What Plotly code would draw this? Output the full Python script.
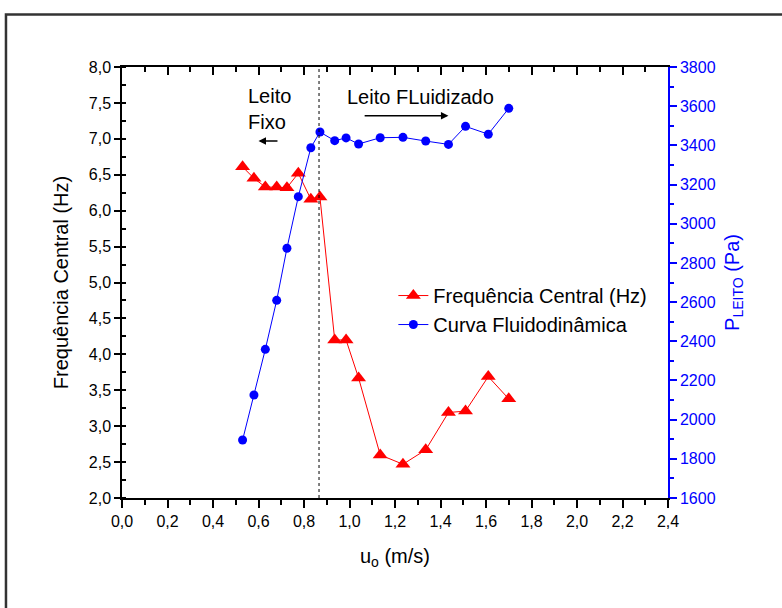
import plotly.graph_objects as go

# ---- data ----
u_vel = [0.53, 0.58, 0.63, 0.68, 0.725, 0.775, 0.83, 0.87, 0.935, 0.985,
         1.04, 1.135, 1.235, 1.335, 1.435, 1.51, 1.61, 1.70]
freq_central = [6.61, 6.45, 6.33, 6.33, 6.32, 6.52, 6.16, 6.19, 4.20, 4.20,
                3.67, 2.60, 2.47, 2.67, 3.19, 3.21, 3.69, 3.38]
p_leito = [1896, 2126, 2359, 2609, 2875, 3138, 3388, 3468, 3424, 3438,
           3407, 3439, 3441, 3422, 3405, 3497, 3457, 3589]
u_transition = 0.866

FONT = "Arial, Liberation Sans, sans-serif"
BLUE = "#0000ff"
RED = "#ff0000"

fig = go.Figure()
fig.add_trace(go.Scatter(
    x=u_vel, y=freq_central, mode="lines+markers",
    name="Frequência Central (Hz)",
    line=dict(color=RED, width=1),
    marker=dict(symbol="triangle-up", size=13, color=RED),
))
fig.add_trace(go.Scatter(
    x=u_vel, y=p_leito, mode="lines+markers", yaxis="y2",
    name="Curva Fluidodinâmica",
    line=dict(color=BLUE, width=1),
    marker=dict(symbol="circle", size=9, color=BLUE),
))

tickfont = dict(family=FONT, size=16, color="black")

fig.update_layout(
    width=782, height=608,
    margin=dict(l=122, r=114, t=67, b=110),
    paper_bgcolor="white", plot_bgcolor="white",
    separators=",.",
    font=dict(family=FONT, size=20, color="black"),
    showlegend=True,
    legend=dict(x=0.497, y=0.515, xanchor="left", yanchor="top",
                bgcolor="rgba(0,0,0,0)", font=dict(family=FONT, size=20),
                tracegroupgap=0),
    xaxis=dict(range=[0, 2.4], dtick=0.2, tick0=0, tickformat=".1f",
               showgrid=False, zeroline=False, showline=True, linecolor="black",
               linewidth=1.5, ticks="outside", ticklen=8, tickwidth=1.5,
               tickcolor="black", mirror=True, tickfont=tickfont,
               minor=dict(ticks="outside", ticklen=5, dtick=0.1, tickcolor="black"),
               title=dict(text="u<sub>o</sub> (m/s)", standoff=20,
                          font=dict(family=FONT, size=20))),
    xaxis2=dict(range=[0, 2.4], overlaying="x", side="top", anchor="y",
                dtick=0.2, tick0=0, showticklabels=False, showgrid=False,
                zeroline=False, showline=False, ticks="inside", ticklen=8,
                tickwidth=1.5, tickcolor="black",
                minor=dict(ticks="inside", ticklen=5, dtick=0.1, tickcolor="black")),
    yaxis=dict(range=[2, 8], dtick=0.5, tick0=2, tickformat=".1f",
               showgrid=False, zeroline=False, showline=True, linecolor="black",
               linewidth=1.5, ticks="outside", ticklen=6, tickwidth=1.5,
               tickcolor="black", tickfont=tickfont,
               minor=dict(ticks="inside", ticklen=4, dtick=0.25, tickcolor="black"),
               title=dict(text="Frequência Central (Hz)", standoff=15,
                          font=dict(family=FONT, size=20))),
    yaxis2=dict(range=[1600, 3800], dtick=200, tick0=1600, overlaying="y",
                side="right", showgrid=False, zeroline=False, showline=True,
                linecolor=BLUE, linewidth=1.5, ticks="outside", ticklen=7,
                tickwidth=1.5, tickcolor=BLUE,
                tickfont=dict(family=FONT, size=16, color=BLUE),
                minor=dict(ticks="outside", ticklen=4, dtick=100, tickcolor=BLUE),
                title=dict(text="P<sub>LEITO</sub> (Pa)", standoff=10,
                           font=dict(family=FONT, size=20, color=BLUE))),
)

# invisible trace to make the top axis draw
fig.add_trace(go.Scatter(x=[0], y=[2], xaxis="x2", mode="markers",
                         marker=dict(opacity=0), showlegend=False,
                         hoverinfo="skip"))

# transition line
fig.add_shape(type="line", xref="x", yref="paper", x0=u_transition, x1=u_transition,
              y0=0, y1=1, line=dict(color="black", width=1, dash="dot"))

# outer frame
fig.add_shape(type="rect", xref="paper", yref="paper",
              x0=-0.2125, x1=1.25, y0=-0.3, y1=1.122,
              line=dict(color="#333333", width=2.5), layer="above")

# annotations
fig.add_annotation(x=0.545, y=7.42, xref="x", yref="y", text="Leito<br>Fixo",
                   showarrow=False, align="left", xanchor="left", yanchor="middle",
                   font=dict(family=FONT, size=20))
fig.add_annotation(x=1.31, y=7.58, xref="x", yref="y", text="Leito FLuidizado",
                   showarrow=False, xanchor="center", yanchor="middle",
                   font=dict(family=FONT, size=20))
fig.add_annotation(x=0.60, y=6.97, ax=0.69, ay=6.97, xref="x", yref="y",
                   axref="x", ayref="y", text="", showarrow=True,
                   arrowhead=2, arrowsize=1, arrowwidth=1.5, arrowcolor="black")
fig.add_annotation(x=1.435, y=7.32, ax=1.06, ay=7.32, xref="x", yref="y",
                   axref="x", ayref="y", text="", showarrow=True,
                   arrowhead=2, arrowsize=1, arrowwidth=1.5, arrowcolor="black")

fig.write_html("out.html")
